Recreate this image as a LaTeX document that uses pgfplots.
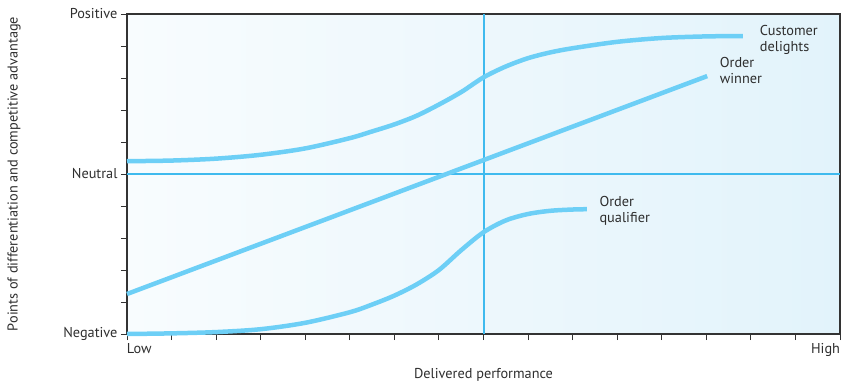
\documentclass[border=0pt]{standalone}
\usepackage{pgfplots}
\pgfplotsset{compat=1.18}
\usepackage{fontspec}
\setmainfont{PT Sans}
\definecolor{curve}{HTML}{6DCFF6}
\definecolor{refl}{HTML}{3FBAEE}
\definecolor{bgl}{HTML}{F8FCFE}
\definecolor{bgr}{HTML}{E2F3FB}
\definecolor{axc}{HTML}{333333}
\definecolor{txt}{HTML}{2E2E2E}
\begin{document}
\begin{tikzpicture}[font=\fontsize{14.3}{16}\selectfont]
\useasboundingbox (-127pt,-54pt) rectangle (715pt,14pt+320pt);
\begin{axis}[
  at={(0,0)}, anchor=south west,
  scale only axis, width=713pt, height=320pt,
  xmin=0, xmax=16, ymin=0, ymax=10,
  axis line style={axc, line width=1.1pt},
  tick style={axc, line width=0.9pt},
  tick align=outside, major tick length=6pt,
  tick pos=left,
  xtick={0,...,16}, ytick={0,...,10},
  xticklabel={\ifnum\ticknum=0 \makebox[0pt][l]{Low}\else\ifnum\ticknum=16 \makebox[0pt][r]{High}\fi\fi},
  yticklabels={Negative,,,,,Neutral,,,,,Positive},
  ticklabel style={text=txt},
  xlabel={Delivered performance},
  ylabel={Points of differentiation and competitive advantage},
  every axis x label/.style={at={(axis description cs:0.5,0)}, yshift=-41pt, anchor=center, text=txt},
  every axis y label/.style={at={(axis description cs:0,0.5)}, xshift=-113pt, rotate=90, anchor=center, text=txt},
  axis background/.style={shade, shading angle=75, left color=bgl, right color=bgr},
  clip=false,
]
\addplot[draw=refl, line width=1.2pt] coordinates {(0,5) (16,5)};
\addplot[draw=refl, line width=1.3pt, xshift=0.5pt] coordinates {(8,0) (8,10)};
% Customer delights
\addplot[draw=curve, line width=4.5pt, smooth] coordinates {
(0,5.40) (1,5.42) (2,5.48) (3,5.60) (4,5.80) (5,6.12) (5.5,6.33) (6,6.55) (6.5,6.82) (7,7.17) (7.5,7.56) (8,8.02) (8.5,8.36) (9,8.62) (9.5,8.80) (10,8.93) (11,9.13) (12,9.25) (13,9.30) (13.82,9.31)};
% Order winner
\addplot[draw=curve, line width=4.5pt] coordinates {(0,1.25) (13.02,8.06)};
% Order qualifier
\addplot[draw=curve, line width=4.5pt, smooth] coordinates {
(0,0.0) (1,0.02) (2,0.06) (3,0.15) (4,0.35) (5,0.68) (5.5,0.92) (6,1.2) (6.5,1.55) (7,2.0) (7.5,2.62) (8,3.18) (8.5,3.55) (9,3.75) (9.5,3.85) (10,3.89) (10.32,3.9)};
\node[anchor=west, align=left, inner sep=0pt, text=txt] at (axis cs:14.2,9.19) {Customer\\delights};
\node[anchor=west, align=left, inner sep=0pt, text=txt] at (axis cs:13.3,8.25) {Order\\winner};
\node[anchor=west, align=left, inner sep=0pt, text=txt] at (axis cs:10.6,3.84) {Order\\qualifier};
\end{axis}
\end{tikzpicture}
\end{document}
